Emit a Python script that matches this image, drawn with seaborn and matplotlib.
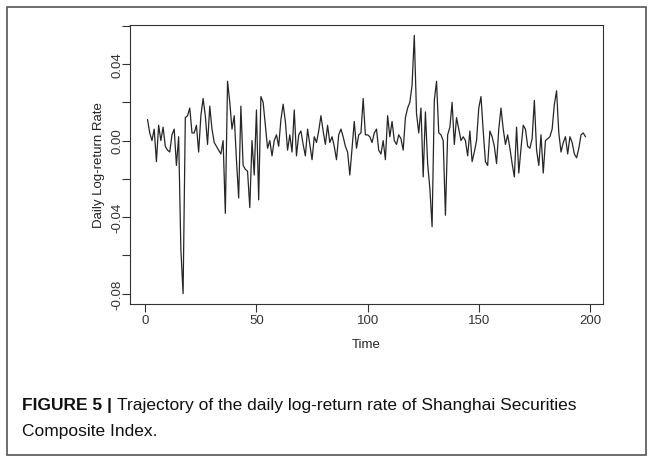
#!/usr/bin/env python3
# Daily log-return rate of the Shanghai Composite Index (R-style time series plot)

import numpy as np
import pandas as pd
import matplotlib
matplotlib.use('Agg')
import matplotlib.pyplot as plt
import seaborn as sns
from matplotlib.patches import Rectangle

# values, one per trading day (t = 1..198)
log_returns = [
    0.011, 0.004, 0.000, 0.006, -0.011, 0.008, 0.000, 0.007, -0.003, -0.005,
    -0.006, 0.003, 0.006, -0.013, 0.002, -0.057, -0.080, 0.012, 0.013, 0.017,
    0.004, 0.004, 0.008, -0.006, 0.013, 0.022, 0.013, -0.002, 0.018, 0.006,
    -0.001, -0.003, -0.005, -0.007, 0.000, -0.038, 0.031, 0.020, 0.006, 0.013,
    -0.010, -0.030, 0.018, -0.013, -0.015, -0.016, -0.035, 0.000, -0.018, 0.016,
    -0.031, 0.023, 0.020, 0.008, -0.004, 0.000, -0.008, 0.000, 0.003, -0.003,
    0.011, 0.019, 0.010, -0.005, 0.003, -0.006, 0.016, -0.008, 0.003, 0.005,
    -0.002, -0.008, 0.006, -0.002, -0.010, 0.002, -0.001, 0.005, 0.013, 0.005,
    -0.002, 0.008, -0.001, 0.002, -0.003, -0.010, 0.003, 0.006, 0.002, -0.003,
    -0.006, -0.018, -0.004, 0.010, -0.004, 0.003, 0.004, 0.022, 0.003, 0.003,
    0.002, -0.001, 0.004, 0.006, -0.005, -0.007, 0.000, -0.010, 0.013, 0.002,
    0.010, 0.000, -0.002, 0.003, 0.001, -0.005, 0.012, 0.017, 0.020, 0.029,
    0.055, 0.014, 0.004, 0.017, -0.019, 0.015, -0.012, -0.025, -0.045, 0.021,
    0.031, 0.004, 0.003, 0.000, -0.039, 0.003, 0.007, 0.020, -0.002, 0.012,
    0.006, 0.000, 0.002, 0.000, -0.008, 0.005, -0.011, -0.006, 0.000, 0.017,
    0.023, 0.005, -0.011, -0.013, 0.005, 0.002, -0.003, -0.012, 0.006, 0.017,
    0.006, -0.002, 0.003, -0.004, -0.012, -0.019, 0.007, -0.017, -0.004, 0.008,
    0.006, -0.003, -0.004, 0.001, 0.021, -0.005, -0.013, 0.003, -0.017, 0.000,
    0.001, 0.002, 0.006, 0.019, 0.026, 0.004, -0.006, -0.001, 0.002, -0.007,
    0.002, -0.001, -0.007, -0.009, -0.004, 0.003, 0.004, 0.002,
]
time_index = list(range(1, len(log_returns) + 1))

x_ticks = [0, 50, 100, 150, 200]
y_ticks = [-0.08, -0.06, -0.04, -0.02, 0.00, 0.02, 0.04, 0.06]
y_tick_labels = ['-0.08', '', '-0.04', '', '0.00', '', '0.04', '']

df = pd.DataFrame({'Time': time_index, 'ret': log_returns})

sns.set_style('white')
plt.rcParams['font.family'] = ['Liberation Sans', 'DejaVu Sans']

W, H = 653, 464
fig = plt.figure(figsize=(W / 100, H / 100), dpi=100)
fig.patch.set_facecolor('white')

# axes box in pixel terms (left, top, right, bottom)
L, T, R, B = 130, 26, 603, 305
ax = fig.add_axes([L / W, 1 - B / H, (R - L) / W, (B - T) / H])

sns.lineplot(data=df, x='Time', y='ret', ax=ax, color='#262626', linewidth=0.9)

# R default axis padding (4%)
xr = max(time_index) - min(time_index)
ax.set_xlim(min(time_index) - 0.04 * xr, max(time_index) + 0.04 * xr)
yr = max(log_returns) - min(log_returns)
ax.set_ylim(min(log_returns) - 0.04 * yr, max(log_returns) + 0.04 * yr)

ax.set_xticks(x_ticks)
ax.set_xticklabels([str(v) for v in x_ticks])
ax.set_yticks(y_ticks)
ax.set_yticklabels(y_tick_labels, rotation=90, va='center')
ax.tick_params(axis='both', direction='out', length=5.5, width=0.8, color='#333333',
               labelsize=9.5, labelcolor='#333333', bottom=True, left=True)
ax.tick_params(axis='x', pad=1.5)
ax.tick_params(axis='y', pad=-1)
for s in ax.spines.values():
    s.set_visible(True)
    s.set_color('#333333')
    s.set_linewidth(0.8)

ax.set_xlabel('Time', fontsize=9.5, color='#222222', labelpad=9)
ax.set_ylabel('Daily Log-return Rate', fontsize=9.5, color='#222222', labelpad=5)

# outer frame of the figure panel
fig.patches.append(Rectangle((7 / W, 1 - 456 / H), (646 - 7) / W, (456 - 8) / H,
                             transform=fig.transFigure, fill=False,
                             edgecolor='#555555', linewidth=1.2))

# caption: bold lead-in followed by regular text
cap_font = ['Liberation Sans Narrow', 'Liberation Sans', 'DejaVu Sans']
x0, y1, y2 = 22 / W, 1 - 410 / H, 1 - 436 / H
bold = fig.text(x0, y1, 'FIGURE 5 | ', fontsize=12.5, fontweight='bold',
                family=cap_font, color='#111111', va='baseline')
fig.canvas.draw()
bb = bold.get_window_extent()
fig.text(bb.x1 / W, y1, 'Trajectory of the daily log-return rate of Shanghai Securities',
         fontsize=12.5, family=cap_font, color='#111111', va='baseline')
fig.text(x0, y2, 'Composite Index.', fontsize=12.5, family=cap_font,
         color='#111111', va='baseline')

plt.savefig('out.png', dpi=100)
print("Saved chart as 'out.png'")
